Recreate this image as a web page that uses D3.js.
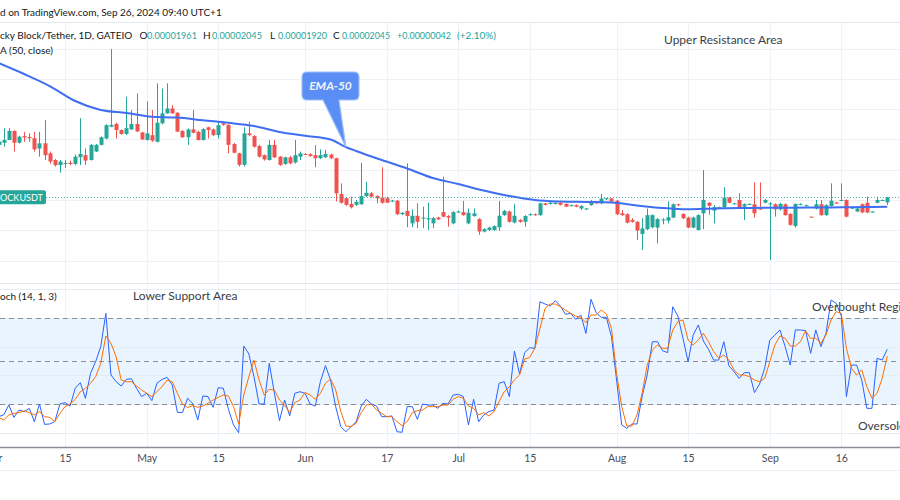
<!DOCTYPE html>
<html>
<head>
<meta charset="utf-8">
<script src="https://cdn.jsdelivr.net/npm/d3@7/dist/d3.min.js"></script>
<style>
  html, body { margin: 0; padding: 0; background: #fff; overflow: hidden; }
</style>
</head>
<body>
<div id="vis-holder"></div>
<script>
// daily candles, Apr 2 -> Sep 26 2024, price in units of 1e-8 USDT
const opens = [2910,2945,2990,3140,2945,3055,3040,3020,2850,2935,2770,2660,2575,
  2600,2615,2595,2705,2740,2660,2800,2910,3015,3210,
  3255,3155,3090,3165,3255,3115,2990,3070,2960,3265,
  3430,3510,3440,3140,3035,3165,3125,2990,3200,3165,
  3070,3265,3240,2925,2770,2580,3100,3055,2890,2740,
  2660,2910,2715,2595,2705,2620,2715,2760,2755,2740,
  2690,2705,2750,2690,2100,2030,1935,1920,1930,2065,
  2110,2065,2040,2030,1975,1990,1765,1820,1615,1740,
  1700,1680,1615,1710,1800,1735,1615,1800,1800,1615,
  1735,1685,1480,1505,1505,1550,1750,1810,1630,1670,
  1640,1750,1765,1750,1945,1935,1935,1955,1935,1905,
  1915,1860,1845,1915,1970,1945,2015,2025,1990,1780,
  1765,1670,1640,1440,1520,1550,1545,1670,1660,1710,
  1930,1770,1710,1545,1505,1780,1955,1825,1870,1880,
  2040,1935,2000,1890,1925,1930,1880,1955,1935,1930,
  1845,1930,1770,1570,1920,1905,1725,1860,1930,1750,
  1900,1960,1990,2000,1860,1810,1930,1955,1800,1955,2000,1961];
const highs = [3020,3185,3185,3150,3060,3125,3100,3125,3125,3320,2800,2675,2660,
  2660,2650,2750,3350,2850,2925,2925,3050,3250,4490,
  3275,3165,3705,3485,3760,3125,3625,3485,3925,3840,
  3925,3565,3450,3150,3180,3485,3140,3185,3210,3180,
  3290,3280,3250,2940,2780,3200,3290,3070,2910,2750,
  2990,2990,2725,2715,2725,2990,2800,2775,2770,2905,
  2835,2825,2765,2700,2275,2050,2055,2000,2615,2300,
  2130,2080,2540,2050,2000,2000,1800,2605,1845,1945,
  1890,1955,1720,1725,2385,1750,1815,1825,1985,1860,
  1860,1700,1535,1560,1580,1985,1835,1825,1930,1685,
  1750,1780,1780,1955,1955,1990,1970,1965,1945,1925,
  1925,1915,1870,2000,1980,2100,2030,2035,2000,1835,
  1780,1700,1650,1700,1860,1765,1700,1700,1975,1945,
  1935,1780,1725,1725,1765,2495,1965,1915,1890,2210,
  2055,1955,2110,1945,1945,2290,2290,2015,1965,1945,
  1955,1945,1780,1945,1945,1925,1725,2000,2000,1930,
  2275,1970,2275,2010,1880,1870,1945,2055,1810,2055,2010,2045];
const lows = [2880,2880,2990,2800,2930,2960,2960,2800,2715,2660,2600,2550,2450,
  2530,2575,2575,2575,2575,2650,2790,2900,3000,3200,
  3015,3075,3070,3155,3125,2990,2980,2960,2950,3250,
  3425,3425,3120,3025,2910,3100,2980,2980,3015,3055,
  3015,3225,2770,2770,2550,2550,3050,2865,2700,2650,
  2650,2690,2565,2580,2590,2600,2660,2745,2715,2540,
  2675,2695,2675,1975,1940,1900,1860,1900,1920,2050,
  2040,1945,1940,1950,1965,1750,1750,1550,1550,1535,
  1535,1505,1535,1670,1715,1560,1600,1790,1740,1600,
  1725,1425,1465,1490,1490,1490,1740,1625,1615,1625,
  1560,1740,1740,1740,1910,1925,1925,1910,1880,1895,
  1880,1835,1835,1905,1935,1930,2000,1965,1750,1740,
  1615,1625,1340,1175,1500,1535,1285,1600,1615,1700,
  1900,1685,1535,1535,1495,1520,1755,1615,1860,1865,
  1945,1925,1865,1670,1915,1710,1835,1945,1010,1725,
  1825,1740,1575,1545,1910,1895,1715,1845,1740,1740,
  1890,1935,1980,1715,1850,1800,1780,1780,1790,1945,1990,1920];
const closes = [2965,2990,3140,2945,3045,3035,3020,2835,2935,2740,2635,2575,2635,
  2610,2595,2715,2760,2650,2910,2910,3035,3235,3240,
  3155,3090,3185,3255,3130,3000,3100,2980,3275,3430,
  3510,3430,3130,3035,3165,3110,2990,3170,3155,3070,
  3235,3240,2910,2780,2580,3100,3070,2880,2715,2670,
  2910,2705,2580,2705,2605,2740,2770,2755,2725,2690,
  2740,2760,2690,2110,1955,1920,1880,1970,2065,2120,
  2055,2030,1955,1955,1990,1765,1790,1735,1740,1640,
  1710,1700,1700,1680,1725,1710,1800,1810,1750,1790,
  1780,1480,1520,1545,1570,1740,1820,1640,1740,1640,
  1735,1765,1750,1945,1920,1955,1955,1920,1890,1915,
  1890,1900,1860,1970,1945,2025,2030,1975,1765,1750,
  1625,1640,1495,1530,1750,1750,1685,1680,1715,1930,
  1915,1700,1545,1710,1750,2000,1905,1880,1880,2040,
  1955,1945,1880,1930,1935,1780,1845,2000,1945,1845,
  1935,1750,1590,1935,1935,1915,1715,1930,1750,1915,
  1990,1945,2000,1725,1880,1860,1795,1795,1810,2000,2000,2045];

// EMA-50 read at every 5th bar
const emaBars = [0,5,10,15,20,25,30,35,40,45,50,55,60,65,68,70,75,80,85,90,95,100,
  105,110,115,120,125,130,135,140,145,150,155,160,165,170,174];
const emaValues = [4260,4079,3881,3634,3485,3436,3374,3361,3315,3274,3221,3122,3061,2998,
  2875,2809,2660,2520,2363,2264,2157,2066,2000,1975,1967,1959,1909,1868,1847,1860,1868,
  1873,1873,1876,1880,1884,1890];

// Stoch (14, 1, 3)
const stochK = [11.2,12.4,19.3,10.7,15.8,14.7,17.0,7.7,20.0,5.8,6.1,7.7,20.0,
  21.0,18.6,31.0,34.9,24.0,41.4,49.6,60.1,83.3,40.3,
  35.6,32.6,37.2,37.7,31.0,25.2,27.5,22.4,34.5,37.2,
  38.6,33.3,14.2,14.0,24.0,20.5,8.9,25.6,25.2,17.7,
  31.4,31.0,16.3,5.4,0.0,60.5,54.9,39.1,20.0,20.0,
  48.4,27.5,8.4,22.8,11.7,27.5,28.6,27.5,20.0,18.6,
  35.6,46.8,36.8,18.2,4.2,0.7,4.2,7.7,18.6,23.3,
  20.0,18.6,11.2,11.2,11.7,0.7,0.3,18.2,18.2,9.3,
  20.0,19.3,19.3,17.0,20.5,20.0,26.3,26.8,25.2,5.4,
  23.3,7.7,12.4,14.7,15.8,34.5,35.6,25.2,57.0,41.0,
  55.9,59.3,58.9,91.4,89.8,88.4,92.1,88.4,82.6,83.3,
  79.1,82.1,69.3,93.1,83.8,80.5,80.5,67.0,36.8,5.4,
  3.1,6.1,6.1,25.2,40.3,63.5,63.5,57.2,55.9,87.9,
  81.4,65.9,49.6,68.2,75.2,64.0,58.2,50.7,50.7,63.5,
  46.6,42.6,37.9,41.9,41.9,28.0,34.0,45.0,64.7,68.2,
  71.7,60.1,47.2,71.7,71.7,71.2,55.4,71.7,60.1,69.3,
  92.6,90.3,81.4,25.2,47.2,47.2,36.8,17.0,17.0,51.9,50.7,58.2];
const stochD = [10.7,8.9,12.4,13.5,14.0,15.2,14.0,12.4,14.7,11.2,10.7,7.7,13.5,
  18.2,20.0,23.3,28.6,31.0,34.5,39.1,48.4,67.5,62.4,
  53.1,36.8,35.6,35.6,32.6,29.8,27.5,25.2,28.6,32.1,
  36.8,35.6,27.5,20.0,17.5,18.9,17.7,18.6,20.5,22.8,
  24.7,26.3,25.6,18.2,6.1,26.3,39.1,50.7,36.8,26.3,
  30.3,29.8,22.8,19.3,14.0,21.0,22.8,28.0,26.3,23.3,
  27.5,34.5,37.5,29.8,14.7,4.7,4.2,6.6,14.0,19.3,
  20.0,15.8,13.5,11.2,11.2,7.7,4.9,7.7,14.0,15.4,
  15.8,18.2,18.2,18.2,19.3,19.3,23.3,25.2,24.0,18.6,
  17.0,12.4,14.0,11.7,14.7,21.7,28.6,32.1,36.8,40.3,
  51.4,52.6,58.9,72.8,86.8,89.8,89.8,87.9,85.6,83.3,
  81.4,80.5,76.8,82.1,82.1,85.6,82.8,72.8,41.4,18.2,
  4.7,4.7,12.4,27.5,47.2,57.7,61.2,58.9,58.9,71.7,
  77.5,78.7,64.7,61.2,64.7,69.3,63.5,56.6,51.9,54.2,
  50.7,43.8,40.3,40.3,39.1,36.8,35.6,37.9,49.6,61.2,
  67.5,65.9,60.5,60.5,63.5,71.2,65.9,65.9,62.4,68.2,
  78.7,84.5,83.3,58.9,44.9,40.3,43.8,32.1,24.0,27.5,37.9,53.5];

const tickBars = [-1,13,29,43,60,76,90,104,121,135,151,165];
const tickLabels = ["Apr","15","May","15","Jun","17","Jul","15","Aug","15","Sep","16"];
const priceGrid = [1000,1500,2000,2500,3000,3500,4000,4500];
const stochGrid = [0,20,40,60,80,100];
const stochLevels = [80,50,20];

const width = 900, height = 500;
const font = "'Trebuchet MS', Lato, 'DejaVu Sans', sans-serif";
const upCol = "#26a69a", downCol = "#ef5350";
const gridCol = "#eef2f7";

const svg = d3.select("#vis-holder").append("svg")
  .attr("width", width).attr("height", height)
  .style("font-family", font);

const x = d3.scaleLinear().domain([13, 165]).range([65, 841.3]);
const y = d3.scaleLinear().domain([1000, 4500]).range([260.6, 48.5]);
const ys = d3.scaleLinear().domain([0, 100]).range([432.7, 289.4]);

// grid
svg.append("g").selectAll("line").data(tickBars).join("line")
  .attr("x1", d => Math.round(x(d)) + 0.5).attr("x2", d => Math.round(x(d)) + 0.5)
  .attr("y1", 22).attr("y2", 447)
  .attr("stroke", gridCol);
svg.append("g").selectAll("line").data(priceGrid).join("line")
  .attr("x1", 0).attr("x2", width)
  .attr("y1", d => Math.round(y(d)) + 0.5).attr("y2", d => Math.round(y(d)) + 0.5)
  .attr("stroke", gridCol);
[22.5, 283.5].forEach(v => svg.append("line")
  .attr("x1", 0).attr("x2", width).attr("y1", v).attr("y2", v)
  .attr("stroke", "#e3e7ee"));

// stoch band + grid
svg.append("rect").attr("x", 0).attr("width", width)
  .attr("y", ys(80)).attr("height", ys(20) - ys(80))
  .attr("fill", "#e9f4fe");
svg.append("g").selectAll("line").data(stochGrid).join("line")
  .attr("x1", 0).attr("x2", width)
  .attr("y1", d => Math.round(ys(d)) + 0.5).attr("y2", d => Math.round(ys(d)) + 0.5)
  .attr("stroke", "#e4ecf4");
svg.append("g").selectAll("line").data(stochLevels).join("line")
  .attr("x1", 0).attr("x2", width)
  .attr("y1", d => Math.round(ys(d)) + 0.5).attr("y2", d => Math.round(ys(d)) + 0.5)
  .attr("stroke", "#8a8d96").attr("stroke-dasharray", "5,4");

// candles
const bars = d3.range(opens.length);
const cg = svg.append("g");
bars.forEach(i => {
  const o = opens[i], c = closes[i];
  const col = c >= o ? upCol : downCol;
  const cx = Math.round(x(i));
  const hi = Math.max(highs[i], o, c), lo = Math.min(lows[i], o, c);
  cg.append("line")
    .attr("x1", cx + 0.5).attr("x2", cx + 0.5)
    .attr("y1", y(hi)).attr("y2", y(lo))
    .attr("stroke", col).attr("stroke-width", 1);
  const top = y(Math.max(o, c)), bot = y(Math.min(o, c));
  cg.append("rect")
    .attr("x", cx - 1.5).attr("width", 4)
    .attr("y", top).attr("height", Math.max(1, bot - top))
    .attr("fill", col);
});

// EMA-50
const ema = emaBars.map((b, k) => [b, emaValues[k]]);
svg.append("path").datum(ema)
  .attr("d", d3.line().x(d => x(d[0])).y(d => y(d[1])).curve(d3.curveMonotoneX))
  .attr("fill", "none").attr("stroke", "#3f6ff0").attr("stroke-width", 2);

// last price line + label
const last = closes[closes.length - 1];
svg.append("line").attr("x1", 46).attr("x2", width)
  .attr("y1", Math.round(y(last)) + 0.5).attr("y2", Math.round(y(last)) + 0.5)
  .attr("stroke", upCol).attr("stroke-dasharray", "1,2").attr("opacity", 0.8);
svg.append("rect").attr("x", -4).attr("y", y(last) - 7).attr("width", 50).attr("height", 14)
  .attr("rx", 2).attr("fill", upCol);
svg.append("text").attr("x", 0).attr("y", y(last) + 3.5)
  .attr("fill", "#fff").attr("font-size", 10)
  .attr("textLength", 43).attr("lengthAdjust", "spacingAndGlyphs")
  .text("OCKUSDT");

// stochastic
svg.append("path").datum(stochK)
  .attr("d", d3.line().x((d, i) => x(i)).y(d => ys(d)))
  .attr("fill", "none").attr("stroke", "#2962ff").attr("stroke-width", 1);
svg.append("path").datum(stochD)
  .attr("d", d3.line().x((d, i) => x(i)).y(d => ys(d)))
  .attr("fill", "none").attr("stroke", "#ff6d00").attr("stroke-width", 1);

// time axis
svg.append("line").attr("x1", 0).attr("x2", width).attr("y1", 447.5).attr("y2", 447.5)
  .attr("stroke", "#8a8d96").attr("stroke-width", 1.5);
svg.append("line").attr("x1", 0).attr("x2", width).attr("y1", 470.5).attr("y2", 470.5)
  .attr("stroke", "#eef1f5");
const ax = svg.append("g").attr("transform", "translate(0,447)")
  .call(d3.axisBottom(x).tickValues(tickBars).tickFormat((d, i) => tickLabels[i]).tickSize(0).tickPadding(8));
ax.select(".domain").remove();
ax.selectAll("text").attr("font-family", font).attr("font-size", 10.5).attr("fill", "#4a4d57");

// header + legends
svg.append("text").attr("x", 0).attr("y", 16).attr("font-size", 10).attr("fill", "#131722")
  .text("d on TradingView.com, Sep 26, 2024 09:40 UTC+1");
const leg = svg.append("text").attr("y", 39).attr("font-size", 10);
const legParts = [
  ["cky Block/Tether, 1D, GATEIO", 0, "#131722", 0],
  ["O", 139.5, "#131722", 0], ["0.00001961", 147, upCol, 50],
  ["H", 203, "#131722", 0], ["0.00002045", 212, upCol, 50],
  ["L", 270, "#131722", 0], ["0.00001920", 278, upCol, 49],
  ["C", 333, "#131722", 0], ["0.00002045", 342, upCol, 48],
  ["+0.00000042", 397, upCol, 54], ["(+2.10%)", 457, upCol, 39]
];
legParts.forEach(p => {
  const t = leg.append("tspan").attr("x", p[1]).attr("fill", p[2]).text(p[0]);
  if (p[3]) t.attr("textLength", p[3]).attr("lengthAdjust", "spacingAndGlyphs");
});
svg.append("text").attr("x", 0).attr("y", 54).attr("font-size", 10).attr("fill", "#131722")
  .text("A (50, close)");
svg.append("text").attr("x", 0).attr("y", 300).attr("font-size", 10).attr("fill", "#131722")
  .text("och (14, 1, 3)");

// annotations
const notes = [
  ["Upper Resistance Area", 664, 44],
  ["Lower Support Area", 133, 300],
  ["Overbought Region", 812, 311],
  ["Oversold Region", 858, 430]
];
notes.forEach(n => svg.append("text").attr("x", n[1]).attr("y", n[2])
  .attr("font-size", 12).attr("fill", "#3b3e46").text(n[0]));

// EMA-50 callout
const tip = [x(emaBars[14]), y(emaValues[14])];
const bx0 = 302, bx1 = 359, by0 = 72, by1 = 100, r = 5;
const callout = `M${bx0 + r},${by0} H${bx1 - r} Q${bx1},${by0} ${bx1},${by0 + r} V${by1 - r} Q${bx1},${by1} ${bx1 - r},${by1}
  H339 L${tip[0]},${tip[1]} L323,${by1} H${bx0 + r} Q${bx0},${by1} ${bx0},${by1 - r} V${by0 + r} Q${bx0},${by0} ${bx0 + r},${by0} Z`;
svg.append("path").attr("d", callout)
  .attr("fill", "#5b8ef5").attr("stroke", "#9cc0fb").attr("stroke-width", 1.2);
svg.append("text").attr("x", (bx0 + bx1) / 2).attr("y", 90)
  .attr("text-anchor", "middle").attr("font-size", 12)
  .attr("font-style", "italic").attr("font-weight", "bold")
  .attr("fill", "#eef3ff").text("EMA-50");
</script>
</body>
</html>
